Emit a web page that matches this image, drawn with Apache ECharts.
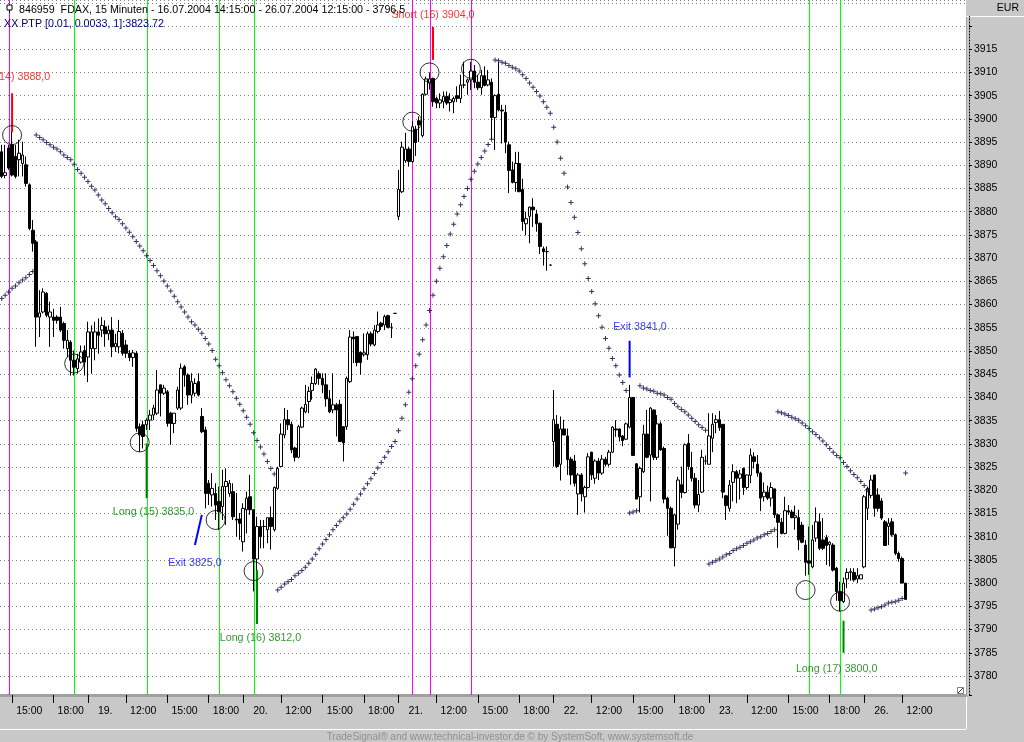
<!DOCTYPE html>
<html>
<head>
<meta charset="utf-8">
<script src="https://cdn.jsdelivr.net/npm/echarts@6/dist/echarts.min.js"></script>
<style>
  html, body { margin: 0; padding: 0; background: #c8c8c8; }
  #chart { width: 1024px; height: 742px; }
</style>
</head>
<body>
<div id="chart"></div>
<script>
// trading sessions: date, first bar, last bar (15 minute bars)
const sessions = [
  ['16.07', '14:15', '20:15'],
  ['19.07', '09:15', '20:15'],
  ['20.07', '09:15', '20:15'],
  ['21.07', '09:15', '20:15'],
  ['22.07', '09:15', '20:15'],
  ['23.07', '09:15', '20:15'],
  ['26.07', '09:15', '12:15']
];
const slotCount = 280;          // axis keeps room on the right
const tickTimes = ['12:00', '15:00', '18:00'];

// candles: [open, close, low, high]
const day16 = [
  [3892.9,3887.6,3887.2,3894.4],[3887.8,3888.4,3887.2,3894.4],[3893.7,3889.4,3889.0,3894.4],[3894.4,3887.9,3887.6,3897.3],
  [3891.9,3887.6,3887.2,3894.4],[3891.2,3892.6,3887.6,3895.5],[3890.4,3892.2,3887.6,3895.1],[3890.1,3886.1,3885.4,3891.9],
  [3885.8,3876.4,3876.0,3886.1],[3876.0,3873.2,3871.4,3878.2],[3873.5,3857.3,3850.9,3873.9],[3857.3,3858.2,3853.0,3863.1],
  [3858.4,3862.7,3858.1,3863.5],[3862.4,3857.7,3857.3,3862.7],[3857.3,3858.4,3850.9,3860.6],[3857.3,3856.6,3853.0,3859.1],
  [3857.3,3856.6,3855.9,3857.7],[3857.3,3854.5,3854.1,3859.5],[3855.9,3852.3,3850.5,3856.3],[3850.5,3852.3,3848.7,3854.5],
  [3851.9,3848.0,3844.7,3852.3],[3848.0,3846.5,3844.7,3850.1],[3846.2,3848.3,3845.1,3849.4],[3847.6,3849.8,3847.3,3851.2],
  [3850.1,3847.6,3844.7,3851.2]
];
const day19 = [
  [3848.7,3854.1,3843.3,3856.3],[3850.5,3854.1,3845.1,3855.5],[3850.5,3854.1,3848.0,3856.3],[3854.1,3853.4,3849.4,3857.0],
  [3854.5,3855.5,3853.0,3857.3],[3855.2,3853.7,3850.9,3856.6],[3853.7,3854.5,3852.3,3855.5],[3854.5,3850.9,3848.7,3857.3],
  [3850.9,3851.6,3849.8,3853.7],[3850.9,3854.2,3849.5,3856.7],[3853.8,3849.5,3849.0,3854.5],[3851.3,3849.5,3848.5,3852.4],
  [3849.5,3848.6,3847.8,3850.2],[3848.6,3849.6,3846.6,3850.2],[3849.5,3833.3,3832.6,3850.0],[3833.7,3831.9,3828.3,3834.4],
  [3834.1,3831.6,3829.0,3835.0],[3834.1,3835.1,3833.0,3835.5],[3835.1,3836.2,3833.0,3837.3],[3836.2,3837.7,3835.1,3838.4],
  [3836.6,3841.6,3836.2,3845.9],[3842.7,3840.9,3835.9,3842.7],[3840.9,3842.0,3840.5,3842.7],[3841.2,3834.4,3833.7,3841.6],
  [3836.6,3834.4,3829.8,3836.9],[3834.4,3836.6,3832.3,3836.6],[3837.7,3841.6,3837.3,3842.3],[3837.7,3846.3,3837.3,3847.3],
  [3846.6,3844.8,3842.3,3847.0],[3844.8,3840.5,3838.4,3845.2],[3840.5,3843.4,3838.7,3845.2],[3840.9,3843.0,3840.2,3844.1],
  [3843.4,3840.5,3840.2,3845.2],[3835.9,3832.6,3832.3,3837.7],[3833.0,3819.3,3816.1,3833.7],[3821.5,3819.3,3816.8,3822.2],
  [3819.0,3820.4,3816.5,3823.7],[3819.3,3816.8,3813.6,3821.5],[3817.6,3815.4,3811.4,3820.8],[3816.5,3820.8,3813.6,3824.4],
  [3820.8,3821.9,3812.5,3824.7],[3819.3,3821.5,3818.6,3822.2],[3819.7,3814.3,3813.6,3821.5],[3813.8,3813.6,3810.0,3819.4],
  [3813.8,3812.9,3809.3,3815.1]
];
const day20 = [
  [3808.9,3816.1,3806.8,3817.2],[3815.8,3818.3,3810.7,3819.7],[3818.6,3815.8,3814.7,3823.3],[3815.8,3805.2,3798.2,3815.8],
  [3805.2,3812.2,3800.0,3814.3],[3812.2,3810.0,3807.5,3813.6],[3812.2,3812.2,3807.5,3813.6],[3811.5,3814.1,3808.6,3814.1],
  [3814.1,3812.2,3807.2,3816.5],[3811.5,3820.6,3811.1,3820.8],[3820.4,3824.7,3820.1,3825.1],[3825.1,3832.1,3825.1,3834.4],
  [3831.9,3835.2,3831.2,3837.7],[3835.2,3834.1,3833.0,3837.3],[3834.2,3828.7,3828.0,3834.8],[3829.1,3827.1,3826.2,3829.4],
  [3827.1,3833.7,3826.9,3834.1],[3833.6,3837.7,3833.4,3838.0],[3836.9,3838.5,3836.6,3842.7],[3839.1,3841.3,3836.6,3842.3],
  [3841.5,3843.0,3839.5,3844.5],[3843.0,3846.1,3842.7,3846.3],[3845.1,3844.1,3842.7,3845.6],[3844.1,3842.7,3840.9,3845.2],
  [3842.7,3839.7,3838.0,3845.2],[3839.7,3836.9,3836.6,3841.6],[3837.3,3838.4,3836.6,3845.2],[3838.4,3837.3,3831.6,3838.8],
  [3838.5,3830.5,3830.5,3839.5],[3833.7,3830.2,3826.2,3833.7],[3833.7,3844.1,3833.0,3844.5],[3843.4,3853.0,3843.1,3854.5],
  [3853.0,3852.6,3847.4,3854.2],[3853.1,3847.5,3846.7,3853.1],[3849.7,3847.5,3844.9,3849.9],[3849.2,3849.6,3848.8,3853.8],
  [3849.2,3853.7,3848.1,3854.2],[3853.7,3851.5,3851.0,3854.2],[3851.3,3854.5,3851.0,3855.6],[3854.2,3855.6,3853.8,3858.5],
  [3856.0,3855.3,3854.5,3856.3],[3855.6,3857.4,3854.5,3857.8],[3857.6,3855.1,3854.9,3857.8],[3855.1,3855.1,3852.8,3856.0],
  [3858.1,3858.1,3858.0,3858.2]
];
const day21 = [
  [3879.0,3884.8,3878.2,3889.0],[3884.3,3893.9,3884.0,3895.1],[3891.0,3893.5,3890.5,3897.0],[3893.5,3890.8,3889.7,3894.0],
  [3890.8,3898.3,3890.5,3899.5],[3897.8,3894.9,3892.0,3898.5],[3899.6,3898.7,3895.0,3900.5],[3896.4,3905.3,3896.0,3905.5],
  [3905.3,3908.6,3905.0,3909.1],[3907.7,3908.6,3906.3,3910.0],[3908.7,3903.7,3902.6,3908.9],[3904.4,3903.4,3902.3,3904.8],
  [3903.4,3904.1,3902.3,3905.5],[3903.7,3904.8,3902.3,3905.9],[3904.8,3903.4,3903.0,3905.9],[3903.5,3904.1,3901.6,3905.5],
  [3903.7,3904.4,3901.2,3904.8],[3905.0,3904.4,3903.6,3907.0],[3904.4,3907.3,3903.4,3909.5],[3907.3,3907.3,3906.6,3912.3],
  [3907.9,3908.4,3905.2,3908.7],[3908.4,3910.3,3906.2,3912.3],[3910.3,3907.9,3906.6,3911.6],[3907.9,3906.7,3906.2,3909.5],
  [3906.7,3909.3,3905.2,3910.5],[3909.3,3907.2,3907.0,3911.3],[3907.3,3908.4,3907.0,3910.5],[3907.9,3900.3,3895.5,3908.7],
  [3900.3,3905.0,3893.3,3905.3],[3905.3,3901.9,3901.6,3912.3],[3901.9,3901.7,3894.7,3903.0],[3901.4,3895.0,3892.6,3903.0],
  [3894.4,3888.9,3884.0,3895.1],[3889.0,3886.3,3886.1,3890.8],[3886.3,3890.4,3884.3,3892.9],[3890.4,3884.3,3884.3,3892.9],
  [3884.8,3877.9,3875.9,3887.1],[3877.4,3878.5,3874.9,3880.0],[3879.0,3881.0,3873.2,3881.1],[3881.0,3880.4,3876.7,3882.9],
  [3879.5,3877.4,3875.7,3880.4],[3877.5,3872.5,3870.9,3877.7],[3872.0,3871.4,3868.4,3872.5],[3871.4,3871.4,3867.3,3872.5],
  [3868.5,3868.5,3868.4,3868.6]
];
const day22 = [
  [3830.5,3835.2,3825.1,3841.6],[3834.2,3825.1,3824.8,3836.2],[3825.6,3833.2,3822.1,3835.9],[3833.2,3831.9,3831.9,3835.2],
  [3831.7,3826.6,3823.3,3833.3],[3826.7,3823.3,3821.2,3827.2],[3826.3,3821.5,3820.8,3827.6],[3819.2,3823.3,3814.7,3823.7],
  [3823.3,3819.2,3817.6,3823.7],[3818.6,3820.6,3815.2,3821.0],[3820.6,3827.2,3820.4,3828.0],[3828.2,3823.3,3822.2,3828.3],
  [3822.6,3826.3,3821.4,3826.7],[3826.3,3823.7,3822.2,3826.9],[3823.7,3826.7,3823.3,3827.6],[3826.7,3825.6,3825.1,3827.2],
  [3825.6,3828.2,3825.1,3828.7],[3828.2,3833.6,3828.0,3833.8],[3833.2,3833.0,3831.5,3835.1],[3833.2,3831.5,3830.5,3833.3],
  [3831.7,3830.7,3829.5,3831.9],[3831.0,3834.3,3830.8,3834.6],[3833.6,3840.0,3833.3,3842.7],[3840.0,3827.5,3827.5,3840.0],
  [3825.7,3818.1,3818.1,3825.8],[3818.6,3824.7,3815.2,3825.1],[3824.0,3832.1,3823.7,3834.1],[3832.1,3827.1,3826.9,3837.3],
  [3827.6,3837.7,3817.6,3837.9],[3837.3,3827.1,3826.5,3837.4],[3827.1,3834.3,3826.5,3836.2],[3834.3,3828.7,3828.5,3834.8],
  [3829.0,3818.1,3817.2,3829.4],[3818.3,3816.1,3810.2,3818.6],[3816.1,3807.6,3807.5,3816.5],[3807.6,3814.7,3803.6,3815.0],
  [3812.7,3822.2,3811.5,3822.9],[3821.2,3819.5,3818.3,3825.1],[3819.5,3829.8,3819.3,3830.1],[3830.1,3825.1,3824.4,3832.1],
  [3824.9,3822.6,3821.9,3828.3],[3822.6,3816.8,3816.1,3823.7],[3816.8,3819.1,3815.3,3822.2],[3819.6,3827.1,3819.4,3828.7],
  [3826.3,3826.3,3825.5,3827.5]
];
const day23 = [
  [3825.6,3831.7,3825.6,3836.6],[3831.2,3834.2,3828.2,3836.6],[3834.6,3835.2,3832.3,3836.2],[3835.2,3833.5,3832.8,3837.1],
  [3834.2,3819.6,3818.3,3834.2],[3818.8,3816.7,3813.6,3819.0],[3816.1,3821.1,3815.4,3822.2],[3821.7,3824.0,3817.6,3825.6],
  [3824.0,3822.6,3817.2,3824.4],[3822.6,3823.5,3818.0,3824.4],[3824.7,3820.6,3819.0,3824.9],[3820.6,3823.3,3820.1,3823.4],
  [3823.2,3827.6,3821.5,3829.0],[3827.2,3826.2,3824.7,3828.2],[3825.6,3823.7,3822.9,3827.6],[3823.7,3818.3,3815.5,3824.0],
  [3818.6,3819.6,3817.6,3821.7],[3819.6,3818.3,3817.9,3821.0],[3818.3,3820.6,3816.5,3821.7],[3820.3,3814.7,3814.0,3820.3],
  [3814.7,3813.1,3807.6,3815.0],[3813.1,3810.7,3810.5,3814.0],[3810.7,3815.6,3810.5,3818.6],[3815.6,3815.3,3814.7,3816.8],
  [3815.3,3814.1,3814.0,3815.8],[3814.1,3814.5,3811.5,3816.7],[3814.1,3809.3,3807.1,3815.8],[3812.5,3808.8,3808.6,3813.2],
  [3808.2,3804.5,3801.6,3809.3],[3804.8,3804.3,3801.8,3812.2],[3803.5,3809.3,3803.2,3812.5],[3809.7,3813.2,3808.9,3816.3],
  [3813.2,3807.5,3807.1,3815.0],[3809.3,3807.5,3807.1,3814.0],[3809.8,3808.1,3803.9,3810.4],[3808.3,3808.8,3803.6,3809.0],
  [3808.2,3802.8,3802.5,3808.6],[3803.2,3798.2,3796.2,3803.5],[3798.2,3796.2,3793.9,3800.3],[3796.0,3800.0,3795.7,3801.2],
  [3800.9,3802.3,3798.9,3803.2],[3802.3,3802.5,3800.5,3803.2],[3802.3,3800.7,3800.3,3803.2],[3800.9,3801.6,3800.0,3803.2],
  [3800.9,3801.8,3800.9,3801.8]
];
const day26 = [
  [3803.5,3818.6,3803.2,3819.0],[3816.1,3820.4,3813.6,3820.8],[3818.9,3822.2,3818.3,3823.3],[3823.3,3816.1,3814.3,3823.3],
  [3819.0,3816.1,3815.4,3820.4],[3817.7,3814.0,3813.6,3818.3],[3813.2,3808.1,3808.1,3813.6],[3812.2,3812.9,3808.2,3814.0],
  [3813.2,3810.4,3810.0,3814.0],[3810.4,3806.4,3806.0,3810.7],[3806.4,3805.3,3804.6,3806.8],[3805.3,3800.0,3800.0,3805.7],
  [3800.0,3796.5,3796.4,3800.0]
];

// PTP indicator, one value per bar
const ptp = [
  3861.3,3862.0,3862.7,3863.5,3864.0,3864.7,3865.3,3865.8,3866.5,3867.1,
  3896.5,3896.0,3895.5,3894.9,3894.4,3893.9,3893.5,3892.9,3892.2,3891.7,3891.2,3890.2,3889.1,3888.3,3887.4,
  3886.5,3885.5,3884.7,3883.6,3882.5,3881.7,3880.7,3879.8,3878.9,3878.3,
  3877.4,3876.5,3875.6,3874.6,3873.6,3872.6,3871.6,3870.5,3869.5,3868.4,3867.3,3866.2,3865.1,3864.0,3862.9,
  3861.8,3860.6,3859.5,3858.4,3857.3,
  3856.3,3855.6,3854.7,3853.8,3852.7,3851.5,3850.1,3848.2,3846.8,3845.3,3843.8,3842.5,3841.2,
  3839.8,3838.5,3837.1,3835.7,3834.2,3832.4,3830.7,3829.3,3827.8,3826.2,3824.7,3823.5,
  3798.5,3799.1,3799.8,3800.3,3800.8,3801.6,3802.1,3802.7,3803.4,3804.3,3805.2,3806.2,3807.4,3808.4,3809.4,
  3810.4,3811.5,3812.4,3813.3,3814.1,3814.9,3815.9,
  3817.0,3818.1,3819.2,3820.3,3821.4,3822.5,3823.6,
  3824.8,3826.0,3827.1,3828.3,3829.4,3830.5,3832.8,3835.5,3838.4,3841.1,3844.0,3846.8,3849.3,3852.4,3855.6,
  3858.7,3862.0,3865.0,3867.8,3870.3,3872.7,3875.2,3877.3,3879.5,3881.5,
  3883.3,3885.0,3887.0,3888.7,3890.3,3891.7,3893.1,3894.5,3895.6,
  3912.7,3912.5,3912.2,3912.0,3911.5,3911.1,3910.8,3910.3,3909.5,3908.7,3907.7,3906.8,3905.9,3904.9,3903.7,
  3902.5,3901.2,3898.2,3895.0,3891.5,3888.3,3885.3,
  3882.0,3878.8,3875.5,3872.0,3868.8,3865.6,3862.8,3860.2,3857.6,
  3855.1,3852.7,3850.6,3848.4,3846.8,3844.8,3843.2,3841.5,
  3815.1,3815.3,3815.6,
  3842.5,3842.0,3841.8,3841.5,3841.3,3840.9,3840.8,3840.5,3840.0,3839.6,3838.7,3838.0,3837.4,3836.9,3836.2,
  3835.5,3834.8,3834.1,3833.5,3832.9,
  3804.1,3804.5,3804.8,3805.2,3805.6,3806.1,3806.4,3807.0,3807.4,3807.7,3808.1,3808.6,3808.9,3809.3,3809.7,
  3810.0,3810.4,3810.7,3811.1,3811.5,
  3836.9,3836.7,3836.4,3836.1,3835.7,3835.4,3835.1,
  3834.5,3833.9,3833.3,3832.6,3832.0,3831.3,3830.6,3829.8,3829.0,3828.2,
  3827.5,3827.0,3826.0,3825.1,3824.2,3823.4,3822.7,3821.9,3821.0,3820.1,
  3794.2,3794.4,3794.7,3794.9,3795.3,3795.7,3795.9,3796.0,3796.3,3796.7,
  3823.7
];

// signal bars (vertical lines through the whole chart)
const longBars = [21, 42, 63, 73, 234, 243];
const shortBars = [2, 119, 124, 136];
// circled points [bar, price]
const circles = [[3, 3896.5], [21, 3847.3], [40, 3830.3], [62, 3813.6], [73, 3802.6],
                 [119, 3899.4], [124, 3910.0], [136, 3910.8], [233, 3798.5], [243, 3796.0]];
// short signal ticks [bar, from, to]
const shortTicks = [[3, 3897.1, 3905.5], [125, 3912.7, 3919.8]];
const exitTicks = [[182, 3844.3, 3852.2]];
const exitSlant = [[56, 3808.2], [58, 3814.7]];
const longTicks = [[42, 3818.3, 3830.1], [74, 3791.2, 3802.8], [244, 3785.0, 3791.9]];
// notes [bar, price, text]
const shortNotes = [[2, 3908.9, 'Short (14) 3888,0'], [125, 3922.4, 'Short (16) 3904,0']];
const exitNotes = [[185, 3855.2, 'Exit 3841,0'], [56, 3804.3, 'Exit 3825,0']];
const longNotes = [[44, 3815.2, 'Long (15) 3835,0'], [75, 3788.2, 'Long (16) 3812,0'], [242, 3781.5, 'Long (17) 3800,0']];

const FONT = 'Liberation Sans, Arial, sans-serif';

// categories and tick labels
const categories = [];
sessions.forEach(([day, from, to]) => {
  let [h, m] = from.split(':').map(Number);
  const [eh, em] = to.split(':').map(Number);
  while (h * 60 + m <= eh * 60 + em) {
    categories.push(day + ' ' + String(h).padStart(2, '0') + ':' + String(m).padStart(2, '0'));
    m += 15;
    if (m === 60) { m = 0; h++; }
  }
});
const barCount = categories.length;
for (let k = barCount; k < slotCount; k++) categories.push('pad' + k);

const tickText = {};
categories.slice(0, barCount).forEach((c, i) => {
  const [day, t] = c.split(' ');
  const prevDay = i > 0 ? categories[i - 1].split(' ')[0] : day;
  if (day !== prevDay) tickText[i] = day.slice(0, 2) + '.';
  else if (tickTimes.indexOf(t) >= 0) tickText[i] = t;
});

const candles = [].concat(day16, day19, day20, day21, day22, day23, day26);

function tickSeries(list, color) {
  return list.map(([i, a, b]) => ({
    type: 'line', data: [[i, a], [i, b]], symbol: 'none', silent: true, z: 4,
    lineStyle: { color: color, width: 2 }
  }));
}
function noteSeries(list, color) {
  return {
    type: 'scatter', data: list.map(([i, p, t]) => ({ value: [i, p], name: t })),
    symbolSize: 1, itemStyle: { color: 'rgba(0,0,0,0)' }, silent: true, z: 6,
    label: { show: true, position: 'inside', formatter: (d) => d.name, color: color,
             fontFamily: FONT, fontSize: 10.7 }
  };
}

const decor = [
  { type: 'line', shape: { x1: 0, y1: 729.5, x2: 966, y2: 729.5 }, style: { stroke: '#ffffff', lineWidth: 1 } },
  { type: 'line', shape: { x1: 966.5, y1: 697, x2: 966.5, y2: 729 }, style: { stroke: '#ffffff', lineWidth: 1 } },
  { type: 'line', shape: { x1: 966.5, y1: 16, x2: 966.5, y2: 695 }, style: { stroke: '#a0a0a0', lineWidth: 1 } },
  { type: 'line', shape: { x1: 966, y1: 16.5, x2: 1024, y2: 16.5 }, style: { stroke: '#ffffff', lineWidth: 1 } },
  { type: 'rect', shape: { x: 966, y: 0, width: 58, height: 16 }, style: { fill: '#c8c8c8' }, z: 10 },
  { type: 'text', x: 1019, y: 8, z: 11, style: { text: 'EUR', align: 'right', verticalAlign: 'middle',
    fill: '#000', font: '10.5px ' + FONT } },
  { type: 'rect', shape: { x: 7, y: 5, width: 5, height: 5 }, style: { fill: '#fff', stroke: '#000', lineWidth: 1 }, z: 11 },
  { type: 'line', shape: { x1: 9.5, y1: 10, x2: 9.5, y2: 13 }, style: { stroke: '#000', lineWidth: 1 }, z: 11 },
  { type: 'text', x: 19, y: 10, z: 11, style: { text: '846959  FDAX, 15 Minuten - 16.07.2004 14:15:00 - 26.07.2004 12:15:00 - 3796,5',
    verticalAlign: 'middle', fill: '#000', font: '10.7px ' + FONT } },
  { type: 'text', x: 4, y: 24, z: 11, style: { text: 'XX PTP [0.01, 0.0033, 1]:3823.72',
    verticalAlign: 'middle', fill: '#000080', font: '10.7px ' + FONT } },
  { type: 'rect', shape: { x: 957.5, y: 687.5, width: 6, height: 6 }, style: { fill: '#fff', stroke: '#808080', lineWidth: 1 }, z: 11 },
  { type: 'line', shape: { x1: 958, y1: 693, x2: 963, y2: 688 }, style: { stroke: '#404040', lineWidth: 1 }, z: 11 },
  { type: 'text', x: 510, y: 737, z: 11, style: { text: 'TradeSignal® and www.technical-investor.de © by SystemSoft, www.systemsoft.de',
    align: 'center', verticalAlign: 'middle', fill: '#909090', font: '10px ' + FONT } }
];

const chart = echarts.init(document.getElementById('chart'));
chart.setOption({
  animation: false,
  backgroundColor: '#c8c8c8',
  grid: { left: 0, top: 0, right: 58, bottom: 47, show: true, backgroundColor: '#ffffff', borderWidth: 0 },
  xAxis: {
    type: 'category', data: categories, boundaryGap: true,
    axisLine: { show: true, lineStyle: { color: '#a0a0a0', width: 3 } },
    axisTick: { show: true, alignWithLabel: true, length: 8, interval: (i) => i in tickText,
                lineStyle: { color: '#000' } },
    axisLabel: { interval: (i) => (i - 5) in tickText, formatter: (v, i) => tickText[i - 5] || '',
                 margin: 11, color: '#000', fontFamily: FONT, fontSize: 10.5 },
    splitLine: { show: false }
  },
  yAxis: {
    type: 'value', position: 'right', min: 3775.9, max: 3925.6, splitNumber: 30, offset: 3,
    axisLine: { show: true, lineStyle: { color: '#000', type: [1, 2] } },
    axisTick: { show: true, length: 3, lineStyle: { color: '#000' } },
    axisLabel: { margin: 5, color: '#000', fontFamily: FONT, fontSize: 10.5,
                 formatter: (v) => (v >= 3780 && v <= 3915 && Math.abs(v % 5) < 1e-6) ? String(v) : '' },
    splitLine: { show: true, lineStyle: { color: '#808080', type: [1, 3] } }
  },
  series: [
    {
      type: 'candlestick', data: candles, barWidth: 3, z: 3,
      itemStyle: { color: '#ffffff', color0: '#000000', borderColor: '#000000', borderColor0: '#000000', borderWidth: 1 }
    },
    {
      type: 'scatter', data: ptp.map((v, i) => [i, v]), silent: true, z: 4,
      symbol: 'path://M2,0h1v5h-1zM0,2h5v1h-5z', symbolSize: 5,
      itemStyle: { color: '#000040' }
    },
    {
      type: 'scatter', data: circles, silent: true, z: 5, symbol: 'circle', symbolSize: 19,
      itemStyle: { color: 'rgba(0,0,0,0)', borderColor: '#000', borderWidth: 1 }
    },
    ...tickSeries(shortTicks, '#ff0000'),
    ...tickSeries(exitTicks, '#0000ff'),
    ...tickSeries(longTicks, '#008000'),
    { type: 'line', data: exitSlant, symbol: 'none', silent: true, z: 4, lineStyle: { color: '#0000ff', width: 2 } },
    noteSeries(shortNotes, '#ff0000'),
    noteSeries(exitNotes, '#0000ff'),
    noteSeries(longNotes, '#008000')
  ],
  graphic: decor
});

// signal lines: placed through the category axis, snapped to whole pixels
function signalLine(i, color) {
  const x = Math.round(chart.convertToPixel({ xAxisIndex: 0 }, i)) + 0.5;
  return { type: 'line', z: 2, silent: true, shape: { x1: x, y1: 0, x2: x, y2: 695 },
           style: { stroke: color, lineWidth: 1 } };
}
chart.setOption({
  graphic: decor.concat(longBars.map((i) => signalLine(i, '#00ff00')),
                        shortBars.map((i) => signalLine(i, '#ff00ff')))
});
</script>
</body>
</html>
